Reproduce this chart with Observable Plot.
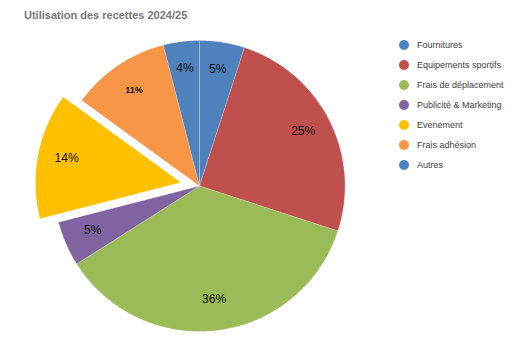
<!DOCTYPE html>
<html>
<head>
<meta charset="utf-8">
<script src="https://cdn.jsdelivr.net/npm/d3@7"></script>
<script src="https://cdn.jsdelivr.net/npm/@observablehq/plot@0.6"></script>
<style>
  html, body { margin: 0; padding: 0; background: #fff; }
  #wrap { position: relative; width: 522px; height: 348px; font-family: "Liberation Sans", Arial, sans-serif; }
  #title { position: absolute; left: 24px; top: 9px; font-size: 11px; font-weight: bold; color: #777; white-space: nowrap; }
  #chart { position: absolute; left: 0; top: 0; }
  #legend { position: absolute; left: 399px; top: 35px; font-size: 9px; color: #404040; }
  .row { display: flex; align-items: center; height: 20px; white-space: nowrap; }
  .sw { width: 10px; height: 10px; border-radius: 50%; margin-right: 8px; flex: none; }
</style>
</head>
<body>
<div id="wrap">
  <div id="chart"></div>
  <div id="title">Utilisation des recettes 2024/25</div>
  <div id="legend"></div>
</div>
<script>
const categories = ["Fournitures", "Equipements sportifs", "Frais de déplacement", "Publicité & Marketing", "Evenement", "Frais adhésion", "Autres"];
const values = [5, 25, 36, 5, 14, 11, 4];
const valueLabels = ["5%", "25%", "36%", "5%", "14%", "11%", "4%"];
const exploded = ["Evenement"];
const palette = ["#4F81BD", "#C0504D", "#9BBB59", "#8064A2", "#FFC000", "#F79646", "#4F81BD"];

const data = categories.map((name, i) => ({name, value: values[i], label: valueLabels[i]}));
const arcs = d3.pie().sort(null).value(d => d.value)(data);
const explodeDist = 0.13;

const polys = [];
const labelRows = [];
arcs.forEach(a => {
  const name = a.data.name;
  const mid = (a.startAngle + a.endAngle) / 2;
  const off = exploded.includes(name) ? explodeDist : 0;
  const ox = off * Math.sin(mid), oy = off * Math.cos(mid);
  const n = Math.max(4, Math.ceil((a.endAngle - a.startAngle) / 0.01));
  polys.push({name, x: ox, y: oy});
  for (let k = 0; k <= n; k++) {
    const t = a.startAngle + (a.endAngle - a.startAngle) * k / n;
    polys.push({name, x: ox + Math.sin(t), y: oy + Math.cos(t)});
  }
  polys.push({name, x: ox, y: oy});
  const r = 0.8;
  labelRows.push({name, label: a.data.label, x: ox + r * Math.sin(mid), y: oy + r * Math.cos(mid)});
});

const small = labelRows.filter(d => d.name === "Frais adhésion");
const normal = labelRows.filter(d => d.name !== "Frais adhésion");

const cx = 199, cy = 185.5, R = 145.5;
const plot = Plot.plot({
  width: 522,
  height: 348,
  margin: 0,
  x: {domain: [-1, 1], range: [cx - R, cx + R], axis: null},
  y: {domain: [-1, 1], range: [cy + R, cy - R], axis: null},
  color: {domain: categories, range: palette},
  style: {fontFamily: "'Liberation Sans', Arial, sans-serif", background: "transparent"},
  marks: [
    Plot.line(polys, {x: "x", y: "y", z: "name", fill: "name", stroke: "#ffffff", strokeWidth: 0.6, strokeOpacity: 0.35, curve: "linear"}),
    Plot.text(normal, {x: "x", y: "y", text: "label", fontSize: 12, fill: "#111", dy: -2}),
    Plot.text(small, {x: "x", y: "y", text: "label", fontSize: 9, fontWeight: "bold", fill: "#111"})
  ]
});
document.getElementById("chart").appendChild(plot);

const legend = document.getElementById("legend");
categories.forEach((c, i) => {
  const row = document.createElement("div");
  row.className = "row";
  const sw = document.createElement("span");
  sw.className = "sw";
  sw.style.background = palette[i];
  const tx = document.createElement("span");
  tx.textContent = c;
  row.appendChild(sw);
  row.appendChild(tx);
  legend.appendChild(row);
});
</script>
</body>
</html>
